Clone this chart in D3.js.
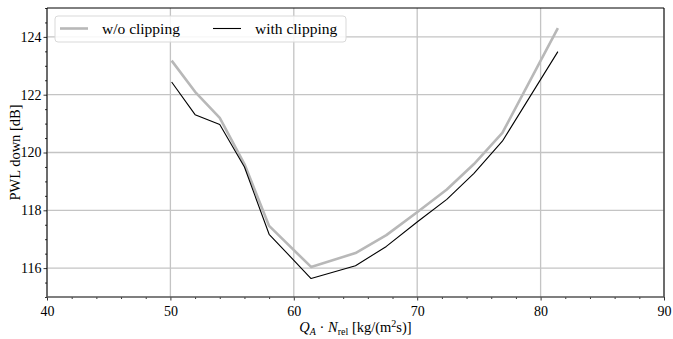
<!DOCTYPE html>
<html><head><meta charset="utf-8">
<script src="https://cdn.jsdelivr.net/npm/d3@7"></script>
<style>body{margin:0;background:#fff}svg{display:block}</style>
</head><body>
<svg id="c" width="673" height="339"></svg>
<script>
const xValues = [50.1, 52.0, 54.0, 56.0, 58.0, 61.4, 65.0, 67.5, 70.1, 72.4, 74.6, 76.9, 81.4];
const withoutClipping = [123.18, 122.1, 121.2, 119.6, 117.46, 116.04, 116.52, 117.14, 117.97, 118.72, 119.6, 120.68, 124.3];
const withClipping = [122.44, 121.31, 120.97, 119.5, 117.17, 115.64, 116.08, 116.75, 117.63, 118.38, 119.28, 120.39, 123.49];
const xTicks = [40, 50, 60, 70, 80, 90];
const yTicks = [116, 118, 120, 122, 124];
const seriesNames = ["w/o clipping", "with clipping"];

const FONT = "'Liberation Serif', 'Times New Roman', Times, serif";
const svg = d3.select("#c");
const L = 47, R = 664, T = 8, B = 297;
const x = d3.scaleLinear().domain([40, 90]).range([L, R]);
const y = d3.scaleLinear().domain([115, 125]).range([B, T]);

// grid
const g = svg.append("g");
g.selectAll(".vg").data(xTicks).enter().append("line")
  .attr("x1", d => x(d)).attr("x2", d => x(d)).attr("y1", T).attr("y2", B)
  .attr("stroke", "#c4c4c4").attr("stroke-width", 1.3);
g.selectAll(".hg").data(yTicks).enter().append("line")
  .attr("x1", L).attr("x2", R).attr("y1", d => y(d)).attr("y2", d => y(d))
  .attr("stroke", "#c4c4c4").attr("stroke-width", 1.3);

// lines
const mk = vals => d3.line().x((d, i) => x(xValues[i])).y(d => y(d))(vals);
svg.append("path").attr("d", mk(withoutClipping)).attr("fill", "none")
  .attr("stroke", "#b8b8b8").attr("stroke-width", 2.6).attr("stroke-linejoin", "round");
svg.append("path").attr("d", mk(withClipping)).attr("fill", "none")
  .attr("stroke", "#000").attr("stroke-width", 1.1).attr("stroke-linejoin", "round");

// axes
const xAxis = d3.axisBottom(x).tickValues(xTicks).tickSize(3.5).tickPadding(2).tickFormat(d3.format("d"));
const xa = svg.append("g").attr("transform", `translate(0,${B})`).call(xAxis);
const xMinor = d3.axisBottom(x).tickValues(d3.range(40, 90.1, 2).filter(v => v % 10 !== 0)).tickSize(2).tickFormat("");
svg.append("g").attr("transform", `translate(0,${B})`).call(xMinor).select(".domain").remove();
const yAxis = d3.axisLeft(y).tickValues(yTicks).tickSize(3.5).tickPadding(2).tickFormat(d3.format("d"));
const ya = svg.append("g").attr("transform", `translate(${L},0)`).call(yAxis);
const yMinor = d3.axisLeft(y).tickValues(d3.range(115, 125.01, 0.5).filter(v => v % 2 !== 0)).tickSize(2).tickFormat("");
svg.append("g").attr("transform", `translate(${L},0)`).call(yMinor).select(".domain").remove();
svg.selectAll(".domain").remove();
svg.selectAll("g").attr("font-family", FONT);
svg.selectAll(".tick text").attr("font-size", 14).attr("fill", "#000").attr("font-family", FONT);
xa.selectAll(".tick text").attr("dy", "0.95em");
svg.selectAll(".tick line").attr("stroke", "#000").attr("stroke-width", 0.8);

// frame
svg.append("line").attr("x1", L).attr("x2", R).attr("y1", T).attr("y2", T).attr("stroke", "#000").attr("stroke-width", 1);
svg.append("line").attr("x1", L).attr("x2", L).attr("y1", T).attr("y2", B).attr("stroke", "#000").attr("stroke-width", 1);
svg.append("line").attr("x1", R).attr("x2", R).attr("y1", T).attr("y2", B).attr("stroke", "#000").attr("stroke-width", 1);
svg.append("line").attr("x1", L).attr("x2", R).attr("y1", B).attr("y2", B).attr("stroke", "#555").attr("stroke-width", 1.6);

// labels
svg.append("text").attr("transform", `translate(20,${(T + B) / 2}) rotate(-90)`)
  .attr("text-anchor", "middle").attr("font-size", 14.5).attr("font-family", FONT).text("PWL down [dB]");
const xl = svg.append("text").attr("x", (L + R) / 2).attr("y", 332).attr("text-anchor", "middle")
  .attr("font-size", 14.5).attr("font-family", FONT);
xl.append("tspan").attr("font-style", "italic").text("Q");
xl.append("tspan").attr("font-style", "italic").attr("font-size", 10).attr("dy", 3).text("A");
xl.append("tspan").attr("dy", -3).text(" · ");
xl.append("tspan").attr("font-style", "italic").text("N");
xl.append("tspan").attr("font-size", 10).attr("dy", 3).text("rel");
xl.append("tspan").attr("dy", -3).text(" [kg/(m");
xl.append("tspan").attr("font-size", 10).attr("dy", -5).text("2");
xl.append("tspan").attr("dy", 5).text("s)]");

// legend
const lg = svg.append("g");
lg.append("rect").attr("x", 55).attr("y", 16).attr("width", 291).attr("height", 26).attr("rx", 3)
  .attr("fill", "#fff").attr("fill-opacity", 0.85).attr("stroke", "#d9d9d9").attr("stroke-width", 1);
const legendItems = [
  {name: seriesNames[0], color: "#b8b8b8", w: 2.6, x0: 60},
  {name: seriesNames[1], color: "#000", w: 1.1, x0: 213}
];
legendItems.forEach(it => {
  lg.append("line").attr("x1", it.x0).attr("x2", it.x0 + 28).attr("y1", 28.5).attr("y2", 28.5)
    .attr("stroke", it.color).attr("stroke-width", it.w);
  lg.append("text").attr("x", it.x0 + 42).attr("y", 33.5).attr("font-size", 15.5)
    .attr("font-family", FONT).text(it.name);
});
</script>
</body></html>
